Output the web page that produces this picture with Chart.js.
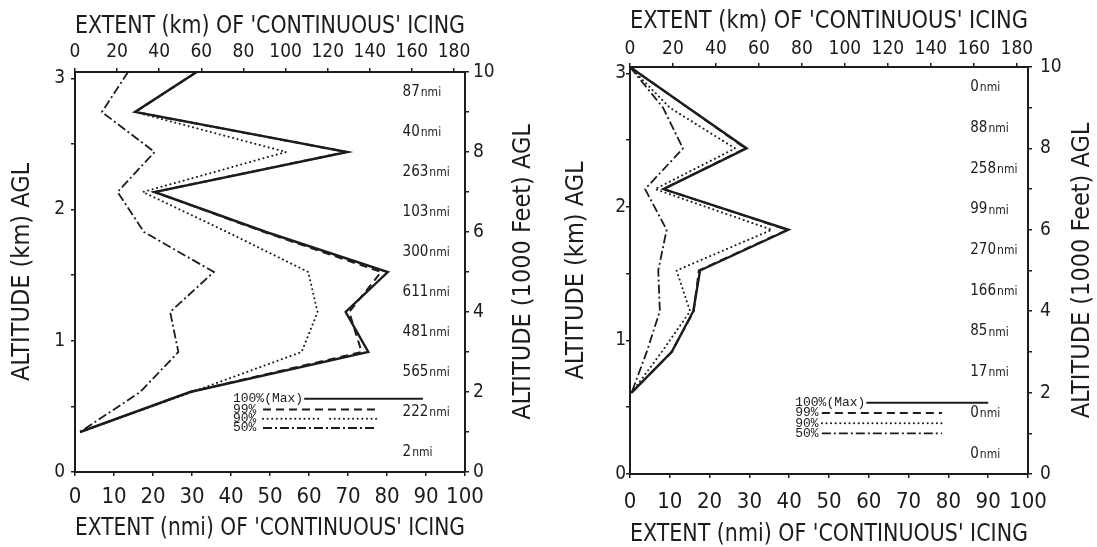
<!DOCTYPE html>
<html>
<head>
<meta charset="utf-8">
<script src="https://cdn.jsdelivr.net/npm/chart.js@4.4.1/dist/chart.umd.min.js"></script>
<style>
  body { margin: 0; background: #fff; }
  .panel { position: absolute; top: 0; height: 547px; }
  #left { left: 0; width: 550px; }
  #right { left: 550px; width: 547px; }
</style>
</head>
<body>
<div class="panel" id="left"><canvas id="c1"></canvas></div>
<div class="panel" id="right"><canvas id="c2"></canvas></div>
<script>
'use strict'

// === DATA ===
// altitude levels, 1000 ft AGL
const altKft = [10, 9, 8, 7, 6, 5, 4, 3, 2, 1]

// left panel: extent (nmi) of 'continuous' icing at each level
const leftMax = [31.2, 15.4, 69.8, 20.4, 49, 80.2, 69.4, 75.2, 29.5, 1.3]
const left99  = [31.2, 15.4, 69.6, 20.4, 48.5, 78.5, 70.3, 73.5, 29.5, 1.3]
const left90  = [31.2, 15.4, 54.1, 17.4, 39, 59.8, 62.2, 58.1, 30, 1.3]
const left50  = [13.6, 6.9, 20.4, 10.9, 17.7, 35.6, 24.4, 26.5, 16.7, 1.3]

// right panel
const rightMax = [0, 14.6, 29.3, 8.4, 39.8, 17.6, 15.9, 10.5, 0.4, null]
const right99  = [0, 14.6, 29.0, 8.4, 39.5, 17.3, 16.0, 10.5, 0.4, null]
const right90  = [0, 10, 26.4, 6.3, 35.6, 11.7, 15.1, 8, 0.4, null]
const right50  = [0, 8.3, 13.3, 3.8, 9.2, 7.1, 7.5, 4.2, 0.4, null]

// per-layer path lengths written on the right of each panel
const labelKft = [9.5, 8.5, 7.5, 6.5, 5.5, 4.5, 3.5, 2.5, 1.5, 0.5]
const leftNmi  = ['87', '40', '263', '103', '300', '611', '481', '565', '222', '2']
const rightNmi = ['0', '88', '258', '99', '270', '166', '85', '17', '0', '0']

const legendNames = ['100%', '99%', '90%', '50%']

// === STYLE ===
const INK = '#1c1c1c'
const NARROW = "'Liberation Sans Narrow', 'DejaVu Sans Condensed', 'Liberation Sans', sans-serif"

const lineStyles = [
  { borderWidth: 2.4, borderDash: [] },
  { borderWidth: 2, borderDash: [8, 5] },
  { borderWidth: 2, borderDash: [0.1, 4.5], borderCapStyle: 'round' },
  { borderWidth: 1.8, borderDash: [9, 3, 2, 3] }
]

const toPts = (xs) => xs.map((v, i) => ({ x: v, y: altKft[i] }))

// extra drawing: right-hand title, nmi labels, legend
const decor = {
  id: 'decor',
  afterDraw(chart, args, o) {
    const { ctx, chartArea } = chart
    const xs = chart.scales.x, ys = chart.scales.y
    ctx.save()
    ctx.fillStyle = INK

    // right axis title, reads bottom to top
    ctx.save()
    ctx.translate(chartArea.right + o.rightTitleOffset, (chartArea.top + chartArea.bottom) / 2 + o.rightTitleShift)
    ctx.rotate(-Math.PI / 2)
    ctx.font = '25px ' + NARROW
    ctx.textAlign = 'center'
    ctx.textBaseline = 'middle'
    ctx.fillText('ALTITUDE (1000 Feet) AGL', 0, 0)
    ctx.restore()

    // nmi labels
    ctx.textBaseline = 'middle'
    ctx.textAlign = 'left'
    o.nmi.forEach((t, i) => {
      const px = xs.getPixelForValue(o.nmiX)
      const py = ys.getPixelForValue(labelKft[i])
      ctx.font = '15px ' + NARROW
      ctx.fillText(t, px, py)
      const w = ctx.measureText(t).width
      ctx.font = '12px ' + NARROW
      ctx.fillText('nmi', px + w + 1, py + 1)
    })

    // legend
    const lg = o.legend
    ctx.font = '13px "Liberation Mono", monospace'
    ctx.strokeStyle = INK
    legendNames.forEach((name, i) => {
      const py = ys.getPixelForValue(lg.rows[i])
      const tx = xs.getPixelForValue(lg.textX)
      const label = i === 0 ? name + '(Max)' : name
      ctx.fillText(label, tx, py)
      const st = lineStyles[i]
      ctx.lineWidth = Math.min(st.borderWidth, 2)
      ctx.setLineDash(st.borderDash)
      ctx.lineCap = st.borderCapStyle || 'butt'
      const segs = i === 0 ? [[tx + ctx.measureText(label).width + 1, xs.getPixelForValue(lg.solidEnd)]]
        : (i === 2 && lg.dotGap) ? [[xs.getPixelForValue(lg.lineStart), xs.getPixelForValue(lg.dotGap[0])], [xs.getPixelForValue(lg.dotGap[1]), xs.getPixelForValue(lg.lineEnd)]]
        : [[xs.getPixelForValue(lg.lineStart), xs.getPixelForValue(lg.lineEnd)]]
      segs.forEach(([a, b]) => {
        ctx.beginPath()
        ctx.moveTo(a, py)
        ctx.lineTo(b, py)
        ctx.stroke()
      })
    })
    ctx.restore()
  }
}

function makePanel(id, series, nmi, box) {
  const bottomFont = { family: NARROW, size: 22, lineHeight: 1 }
  const sideFont = { family: NARROW, size: 19, lineHeight: 1 }
  const titleFont = { family: NARROW, size: 25, lineHeight: 1 }
  const grid = { drawOnChartArea: false, tickLength: 4, color: INK, lineWidth: 1.5 }
  const border = { color: INK, width: 2 }

  return new Chart(document.getElementById(id), {
    type: 'line',
    data: {
      datasets: series.map((s, i) => Object.assign({
        label: legendNames[i],
        data: toPts(s),
        borderColor: INK,
        pointRadius: 0,
        tension: 0,
        fill: false,
        xAxisID: 'x',
        yAxisID: 'y'
      }, lineStyles[i]))
    },
    options: {
      responsive: true,
      maintainAspectRatio: false,
      animation: false,
      layout: { padding: 0 },
      plugins: {
        legend: { display: false },
        tooltip: { enabled: false },
        decor: {
          nmi: nmi,
          nmiX: box.nmiX,
          rightTitleOffset: box.rightTitleOffset,
          rightTitleShift: box.rightTitleShift,
          legend: box.legend
        }
      },
      scales: {
        x: {
          type: 'linear', position: 'bottom', min: 0, max: 100,
          ticks: { stepSize: 10, autoSkip: false, color: INK, font: bottomFont, padding: box.padBottom, maxRotation: 0 },
          grid: grid, border: border,
          title: { display: true, text: "EXTENT (nmi) OF 'CONTINUOUS' ICING", color: INK, font: titleFont, padding: { top: 0, bottom: box.titleBottom } },
          afterFit: (s) => { s.height = box.bottom }
        },
        xkm: {
          type: 'linear', position: 'top', min: 0, max: 185.2,
          ticks: { stepSize: 20, includeBounds: false, autoSkip: false, color: INK, font: sideFont, padding: box.padTop, maxRotation: 0 },
          grid: grid, border: border,
          title: { display: true, text: "EXTENT (km) OF 'CONTINUOUS' ICING", color: INK, font: titleFont, padding: { top: box.titleTop, bottom: 0 } },
          afterFit: (s) => { s.height = box.top }
        },
        ykm: {
          type: 'linear', position: 'left', min: 0, max: 3.048,
          ticks: { stepSize: 0.5, includeBounds: false, autoSkip: false, color: INK, font: sideFont, padding: box.padLeft,
            callback: (v) => Number.isInteger(v) ? String(v) : '' },
          grid: grid, border: border,
          title: { display: true, text: 'ALTITUDE (km) AGL', color: INK, font: titleFont, padding: { top: box.titleLeft, bottom: 0 } },
          afterFit: (s) => { s.width = box.left }
        },
        y: {
          type: 'linear', position: 'right', min: 0, max: 10,
          ticks: { stepSize: 1, autoSkip: false, color: INK, font: sideFont, padding: box.padRight,
            callback: (v) => v % 2 === 0 ? String(v) : '' },
          grid: grid, border: border,
          afterFit: (s) => { s.width = box.right }
        }
      }
    },
    plugins: [decor]
  })
}

makePanel('c1', [leftMax, left99, left90, left50], leftNmi, {
  left: 75, right: 85, top: 72, bottom: 75,
  padBottom: 10, padTop: 6, padLeft: 6, padRight: 4,
  titleBottom: 6, titleTop: 14, titleLeft: 10,
  rightTitleOffset: 58, rightTitleShift: 0,
  nmiX: 84,
  legend: { textX: 40.5, rows: [1.83, 1.56, 1.33, 1.1], solidEnd: 89.2, lineStart: 48.2, lineEnd: 77.4, dotGap: [62.8, 65.4] }
})

makePanel('c2', [rightMax, right99, right90, right50], rightNmi, {
  left: 80, right: 69, top: 67, bottom: 73,
  padBottom: 13, padTop: 4, padLeft: 0, padRight: 8,
  titleBottom: 0, titleTop: 9, titleLeft: 14,
  rightTitleOffset: 54, rightTitleShift: 0,
  nmiX: 85.5,
  legend: { textX: 41.5, rows: [1.75, 1.5, 1.25, 1.0], solidEnd: 90, lineStart: 48.2, lineEnd: 78.4 }
})
</script>
</body>
</html>
